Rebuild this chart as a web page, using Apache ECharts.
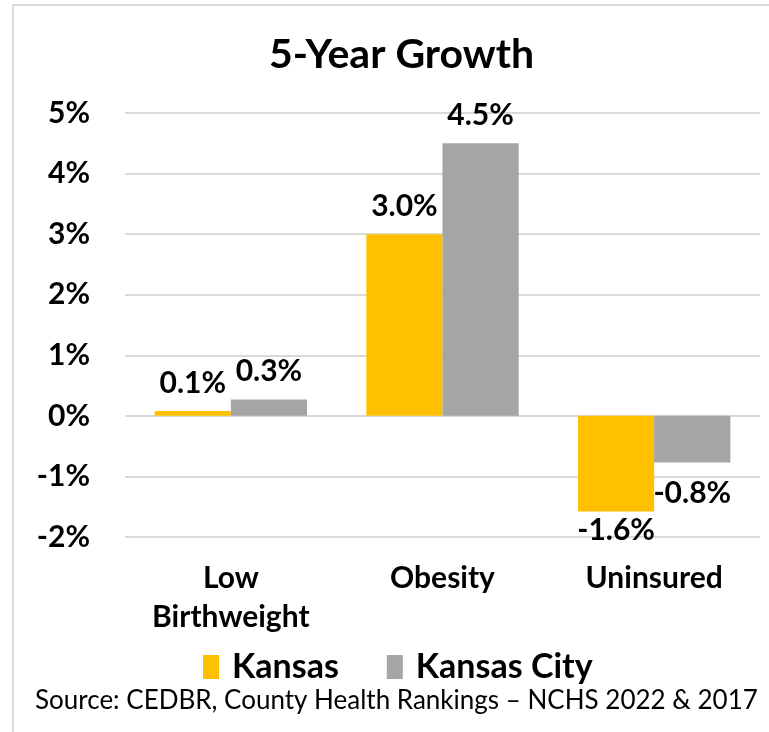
<!DOCTYPE html>
<html>
<head>
<meta charset="utf-8">
<script src="https://cdn.jsdelivr.net/npm/echarts@6/dist/echarts.min.js"></script>
<style>
  html, body { margin: 0; padding: 0; background: #fff; }
  #frame { position: absolute; left: 12px; top: 4px; width: 760px; height: 740px; border: 2px solid #d9d9d9; box-sizing: border-box; }
  #chart { position: absolute; left: 0; top: 0; width: 769px; height: 732px; }
</style>
</head>
<body>
<div id="frame"></div>
<div id="chart"></div>
<script>
// data
var categories = ["Low\nBirthweight", "Obesity", "Uninsured"];
var kansas = [0.08, 3.0, -1.58];
var kansasCity = [0.27, 4.5, -0.77];
var seriesNames = ["Kansas", "Kansas City"];

var font = "Lato, 'Open Sans', sans-serif";

// labels go above positive bars, below negative ones
function toItems(arr, negDistance) {
  return arr.map(function (v) {
    return {
      value: v,
      label: v < 0 ? { position: "bottom", distance: negDistance } : { position: "top", distance: 13 }
    };
  });
}

var barLabel = {
  show: true,
  color: "#000",
  fontFamily: font,
  fontWeight: "bold",
  fontSize: 30,
  formatter: function (p) { return p.value.toFixed(1) + "%"; }
};

var myChart = echarts.init(document.getElementById("chart"));

var option = {
  animation: false,
  title: {
    text: "5-Year Growth",
    left: 264,
    top: 29,
    textStyle: { fontFamily: font, fontWeight: "bold", fontSize: 41, color: "#000" }
  },
  legend: {
    data: seriesNames,
    top: 645,
    left: 198,
    icon: "rect",
    itemWidth: 16,
    itemHeight: 24,
    itemGap: 48,
    textStyle: { fontFamily: font, fontWeight: "bold", fontSize: 34, color: "#000", padding: [0, 0, 0, 8] }
  },
  graphic: [{
    type: "text",
    left: 35,
    top: 688,
    style: {
      text: "Source: CEDBR, County Health Rankings – NCHS 2022 & 2017",
      font: "26px " + font,
      fill: "#000"
    }
  }],
  grid: { left: 125, right: 9, top: 113, bottom: 195 },
  xAxis: {
    type: "category",
    data: categories,
    axisLine: { show: false, onZero: false },
    axisTick: { show: false },
    axisLabel: {
      margin: 22,
      color: "#000",
      fontFamily: font,
      fontWeight: "bold",
      fontSize: 30,
      lineHeight: 39
    }
  },
  yAxis: {
    type: "value",
    min: -2,
    max: 5,
    interval: 1,
    axisLine: { show: false },
    axisTick: { show: false },
    splitLine: { lineStyle: { color: "#d9d9d9", width: 2 } },
    axisLabel: {
      margin: 35,
      color: "#000",
      fontFamily: font,
      fontWeight: "bold",
      fontSize: 30,
      formatter: "{value}%"
    }
  },
  series: [
    {
      name: seriesNames[0],
      type: "bar",
      data: toItems(kansas, 4),
      itemStyle: { color: "#FFC000" },
      barGap: "0%",
      barCategoryGap: "28%",
      label: barLabel
    },
    {
      name: seriesNames[1],
      type: "bar",
      data: toItems(kansasCity, 16),
      itemStyle: { color: "#A5A5A5" },
      label: barLabel
    }
  ]
};

myChart.setOption(option);
</script>
</body>
</html>
